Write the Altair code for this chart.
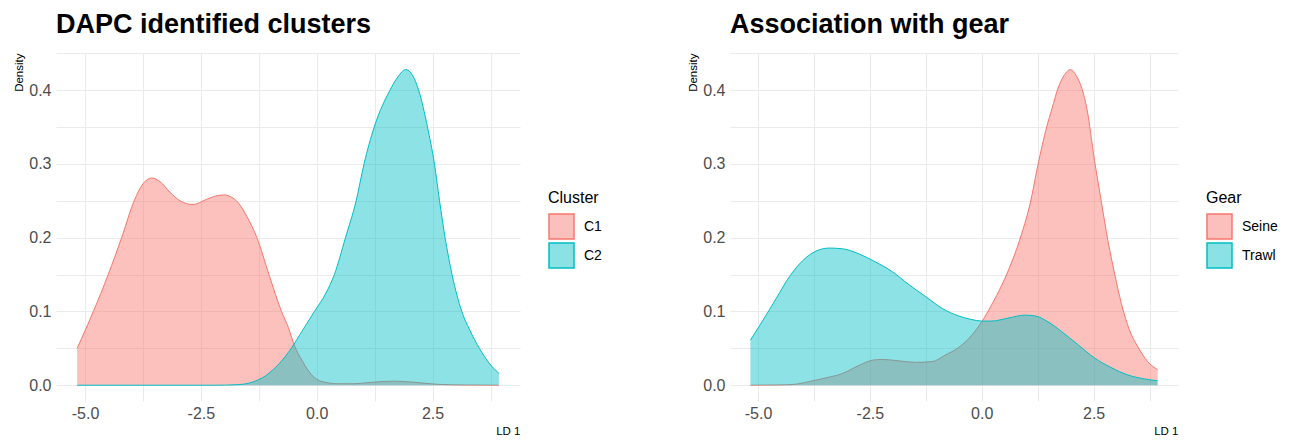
import altair as alt
import pandas as pd

FONT = "Liberation Sans"

# ---- Left panel: DAPC identified clusters ----
c1_x = [-5.17, -4.82, -4.50, -4.21, -3.94, -3.75, -3.56, -3.38, -3.17, -2.95, -2.67, -2.38,
        -2.15, -1.98, -1.84, -1.70, -1.50, -1.29, -1.03, -0.76, -0.61, -0.47, -0.32, -0.11,
        0.11, 0.47, 0.82, 1.18, 1.68, 2.11, 2.61, 3.19, 3.93]
c1_y = [0.050, 0.100, 0.150, 0.200, 0.250, 0.273, 0.281, 0.276, 0.262, 0.250, 0.245, 0.252,
        0.257, 0.258, 0.255, 0.248, 0.228, 0.200, 0.150, 0.100, 0.078, 0.052, 0.034, 0.014,
        0.005, 0.002, 0.002, 0.004, 0.0055, 0.004, 0.0012, 0.0003, 0.0]

c2_x = [-5.17, -2.20, -1.70, -1.40, -1.10, -0.80, -0.55, -0.30, -0.05, 0.20, 0.38, 0.62,
        0.85, 1.02, 1.24, 1.58, 1.75, 1.92, 2.07, 2.20, 2.39, 2.54, 2.65, 2.77, 2.92, 3.13,
        3.30, 3.51, 3.72, 3.93]
c2_y = [0.0, 0.0, 0.0008, 0.004, 0.013, 0.030, 0.050, 0.075, 0.100, 0.125, 0.150, 0.200,
        0.250, 0.300, 0.350, 0.400, 0.418, 0.428, 0.420, 0.400, 0.350, 0.300, 0.250, 0.200,
        0.150, 0.100, 0.075, 0.050, 0.030, 0.016]

# ---- Right panel: Association with gear ----
seine_x = [-5.17, -4.60, -4.22, -3.85, -3.48, -3.11, -2.74, -2.44, -2.22, -1.85, -1.48, -1.11,
           -0.81, -0.52, -0.22, 0.00, 0.22, 0.45, 0.67, 0.89, 1.08, 1.26, 1.45, 1.57, 1.70,
           1.84, 1.98, 2.11, 2.24, 2.35, 2.52, 2.67, 2.82, 2.97, 3.12, 3.30, 3.49, 3.71, 3.93]
seine_y = [0.0, 0.0003, 0.001, 0.005, 0.010, 0.016, 0.027, 0.034, 0.035, 0.033, 0.031, 0.032,
           0.041, 0.051, 0.068, 0.086, 0.109, 0.136, 0.167, 0.205, 0.246, 0.300, 0.350, 0.375, 0.402,
           0.420, 0.428, 0.420, 0.402, 0.375, 0.305, 0.250, 0.196, 0.151, 0.111, 0.075, 0.052,
           0.032, 0.021]

trawl_x = [-5.17, -4.89, -4.59, -4.30, -4.00, -3.70, -3.41, -3.11, -2.74, -2.37, -2.00, -1.62,
           -1.25, -0.88, -0.52, -0.22, 0.00, 0.22, 0.59, 0.96, 1.19, 1.48, 1.78, 2.15, 2.52,
           2.89, 3.26, 3.63, 3.93]
trawl_y = [0.061, 0.088, 0.118, 0.147, 0.169, 0.182, 0.186, 0.185, 0.178, 0.167, 0.154, 0.136,
           0.120, 0.104, 0.094, 0.089, 0.087, 0.087, 0.091, 0.095, 0.094, 0.086, 0.073, 0.055,
           0.037, 0.024, 0.014, 0.0086, 0.006]

x_grid = [-5, -3.75, -2.5, -1.25, 0, 1.25, 2.5, 3.75]
y_grid = [0, 0.05, 0.1, 0.15, 0.2, 0.25, 0.3, 0.35, 0.4, 0.45]
pal = ["#F8766D", "#00BFC4"]


def make_df(series):
    rows = []
    for name, xs, ys in series:
        for xv, yv in zip(xs, ys):
            rows.append({"group": name, "x": xv, "density": yv})
    return pd.DataFrame(rows)


def legend_for(title, width, **kw):
    return alt.Legend(
        title=title, orient="none", legendX=width + 28, legendY=137,
        symbolType="square", symbolSize=625, symbolStrokeWidth=1.5,
        titleFont=FONT, titleFontSize=16, titleFontWeight="normal", titleColor="black",
        labelFont=FONT, labelFontSize=14, labelColor="black",
        titlePadding=7, labelOffset=9, rowPadding=-5, **kw,
    )


def panel(df, groups, title, legend_title, width, height):
    # translucent-fill legend (areas) and outline legend (lines), drawn on the same spot
    fill_scale = alt.Scale(range=pal)
    stroke_scale = alt.Scale(domain=groups, range=pal)
    fill_legend = legend_for(legend_title, width, symbolOpacity=0.45, symbolStrokeColor="transparent")
    stroke_legend = legend_for(legend_title, width, symbolOpacity=1, symbolFillColor="transparent",
                               labelOpacity=0, titleOpacity=0)
    xaxis = alt.Axis(
        values=x_grid, title="LD 1", titleAnchor="end",
        labelExpr="datum.value % 2.5 == 0 ? replace(format(datum.value, '.1f'), '\u2212', '-') : ''",
        labelPadding=4, titlePadding=4,
    )
    yaxis = alt.Axis(
        values=y_grid, title="Density", titleAnchor="end",
        labelExpr="abs(datum.value*10 - round(datum.value*10)) < 0.001 ? format(datum.value, '.1f') : ''",
        labelPadding=5, titlePadding=4,
    )
    xenc = alt.X("x:Q", scale=alt.Scale(domain=[-5.626, 4.386], nice=False, zero=False), axis=xaxis)
    yenc = alt.Y("density:Q", scale=alt.Scale(domain=[-0.0214, 0.4505], nice=False, zero=False), axis=yaxis)
    layers = []
    for g in groups:
        sub = alt.Chart(df).transform_filter(alt.datum.group == g)
        layers.append(
            sub.mark_area(fillOpacity=0.45, interpolate="monotone").encode(
                x=xenc, y=yenc, y2=alt.datum(0),
                color=alt.Color("group:N", scale=fill_scale, legend=fill_legend),
            )
        )
        layers.append(
            sub.mark_line(strokeWidth=1, interpolate="monotone").encode(
                x=xenc, y=yenc,
                stroke=alt.Stroke("group:N", scale=stroke_scale, legend=stroke_legend),
            )
        )
    return alt.layer(*layers).properties(
        width=width, height=height,
        title=alt.Title(title, anchor="start", frame="group", fontSize=27, font=FONT,
                        fontWeight="bold", color="black", offset=14),
    )


df_left = make_df([("C1", c1_x, c1_y), ("C2", c2_x, c2_y)])
df_right = make_df([("Seine", seine_x, seine_y), ("Trawl", trawl_x, trawl_y)])

left = panel(df_left, ["C1", "C2"], "DAPC identified clusters", "Cluster", 464, 348)
right = panel(df_right, ["Seine", "Trawl"], "Association with gear", "Gear", 448, 348)

chart = alt.hconcat(left, right, spacing=210, bounds="flush").resolve_scale(
    color="independent", stroke="independent", x="independent", y="independent"
).properties(
    padding={"left": 5, "top": 3, "right": 0, "bottom": 0},
    background="white",
).configure_view(stroke=None).configure_axis(
    domain=False, ticks=False, grid=True, gridColor="#EBEBEB", gridWidth=1,
    labelColor="#4D4D4D", labelFont=FONT, labelFontSize=16,
    titleFont=FONT, titleFontSize=11.5, titleFontWeight="normal", titleColor="black",
)

chart.save("out.html", embed_options={"renderer": "svg", "actions": False})
